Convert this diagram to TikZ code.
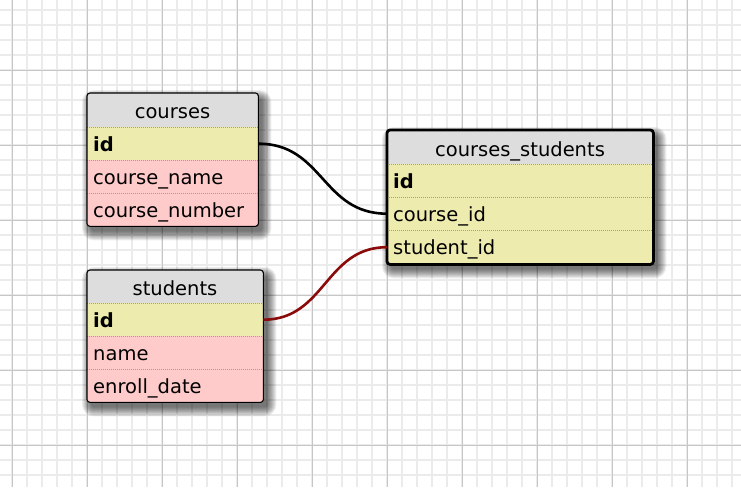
\documentclass[tikz,border=0pt]{standalone}
\usepackage{fontspec}
\setmainfont{DejaVu Sans}
\usetikzlibrary{calc}
\definecolor{hdr}{HTML}{DDDDDD}
\definecolor{keyc}{HTML}{EEEBAF}
\definecolor{fkc}{HTML}{FFCACA}
\definecolor{gminor}{HTML}{EBEBEB}
\definecolor{gmajor}{HTML}{C6C6C6}
\definecolor{relred}{HTML}{8B0A0A}
\newcommand\tblshadow[1]{%
  \foreach \r in {9,8,...,0}{%
    \fill[black, opacity=0.07, rounded corners={(\r+3)*1pt}]
      ($(#1.north west)+(4-\r,6-\r)$) rectangle ($(#1.south east)+(4+\r,5+\r)$);
  }%
}
\tikzset{
  frame/.style={rectangle, rounded corners=3pt, draw=none, fill=none, inner sep=0pt, anchor=north west},
  rowbox/.style={rectangle, inner xsep=6pt, inner ysep=0pt, minimum height=33pt,
    text height=17pt, text depth=2pt, text width=#1, align=left, anchor=north west},
  title/.style={anchor=base, inner sep=0pt},
  sep/.style={draw=gray!75, line width=0.6pt, dash pattern=on 0.9pt off 1.1pt},
  border/.style={draw=black, line width=1.1pt, rounded corners=3pt},
  thickborder/.style={draw=black, line width=2.8pt, rounded corners=3pt},
  conn/.style={line width=2.6pt, draw=black},
  connred/.style={line width=2.6pt, draw=relred}
}
\begin{document}
\begin{tikzpicture}[x={(1pt,0pt)}, y={(0pt,-1pt)}, font=\fontsize{19.5pt}{23pt}\selectfont]
\useasboundingbox (0,0) rectangle (741,487);
\fill[white] (0,0) rectangle (741,487);
% grid
\foreach \x in {12,27,...,740} \draw[gminor, line width=1.2pt] (\x,0) -- (\x,487);
\foreach \y in {10,25,...,486} \draw[gminor, line width=1.2pt] (0,\y) -- (741,\y);
\foreach \x in {12,87,...,740} \draw[gmajor, line width=1pt] (\x,0) -- (\x,487);
\foreach \y in {70,145,...,486} \draw[gmajor, line width=1pt] (0,\y) -- (741,\y);

% ---------- table frames ----------
\node[frame, minimum width=171pt, minimum height=133pt] (courses) at (87,93) {};
\node[frame, minimum width=176pt, minimum height=132pt] (students) at (87,270) {};
\node[frame, minimum width=266pt, minimum height=134pt] (cs) at (387,130) {};

% shadows
\tblshadow{courses}
\tblshadow{students}
\tblshadow{cs}

\fill[hdr, rounded corners=3pt] (courses.north west) rectangle (courses.south east);
\fill[hdr, rounded corners=3pt] (students.north west) rectangle (students.south east);
\fill[hdr, rounded corners=3pt] (cs.north west) rectangle (cs.south east);

% ---------- courses ----------
\begin{scope}
\clip[rounded corners=3pt] (courses.north west) rectangle (courses.south east);
\node[rowbox=159pt, fill=keyc] (c-id) at (87,127) {\textbf{id}};
\node[rowbox=159pt, fill=fkc] (c-name) at (87,160) {course\_name};
\node[rowbox=159pt, fill=fkc, minimum height=34pt] (c-num) at (87,193) {course\_number};
\end{scope}
\node[title] (c-title) at (172.5,118) {courses};
\draw[sep] (c-id.north west) -- (c-id.north east);
\draw[sep] (c-name.north west) -- (c-name.north east);
\draw[sep] (c-num.north west) -- (c-num.north east);
\draw[border] (courses.north west) rectangle (courses.south east);

% ---------- students ----------
\begin{scope}
\clip[rounded corners=3pt] (students.north west) rectangle (students.south east);
\node[rowbox=164pt, fill=keyc] (s-id) at (87,303) {\textbf{id}};
\node[rowbox=164pt, fill=fkc] (s-name) at (87,336) {name};
\node[rowbox=164pt, fill=fkc] (s-date) at (87,369) {enroll\_date};
\end{scope}
\node[title] (s-title) at (175,295) {students};
\draw[sep] (s-id.north west) -- (s-id.north east);
\draw[sep] (s-name.north west) -- (s-name.north east);
\draw[sep] (s-date.north west) -- (s-date.north east);
\draw[border] (students.north west) rectangle (students.south east);

% ---------- courses_students ----------
\begin{scope}
\clip[rounded corners=3pt] (cs.north west) rectangle (cs.south east);
\node[rowbox=254pt, fill=keyc] (cs-id) at (387,164) {\textbf{id}};
\node[rowbox=254pt, fill=keyc] (cs-course) at (387,197) {course\_id};
\node[rowbox=254pt, fill=keyc, minimum height=34pt] (cs-student) at (387,230) {student\_id};
\end{scope}
\node[title] (cs-title) at (520,156) {courses\_students};
\draw[sep] (cs-id.north west) -- (cs-id.north east);
\draw[sep] (cs-course.north west) -- (cs-course.north east);
\draw[sep] (cs-student.north west) -- (cs-student.north east);
\draw[thickborder] (cs.north west) rectangle (cs.south east);

% ---------- relations ----------
\draw[conn] (c-id.east) .. controls +(65,0) and +(-65,0) .. (cs-course.west);
\draw[connred] (s-id.east) .. controls +(62,0) and +(-62,0) .. (cs-student.west);
\end{tikzpicture}
\end{document}
